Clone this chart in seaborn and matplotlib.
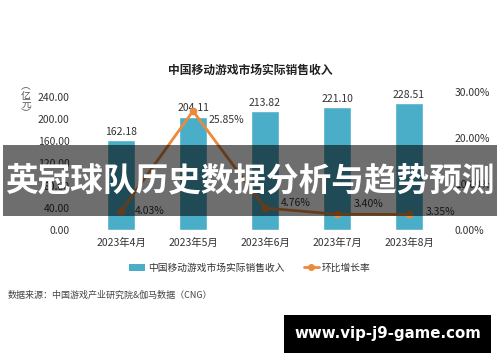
import numpy as np
import matplotlib
matplotlib.use("Agg")
import matplotlib.pyplot as plt
import seaborn as sns
from matplotlib.patches import Patch, Rectangle
from matplotlib.lines import Line2D

# ====================== 数据 ======================
months = ["2023年4月", "2023年5月", "2023年6月", "2023年7月", "2023年8月"]
revenue = [162.18, 204.11, 213.82, 221.10, 228.51]   # 亿元
growth = [4.03, 25.85, 4.76, 3.40, 3.35]             # %
left_ticks = [0, 40, 80, 120, 160, 200, 240]
right_ticks = [0, 10, 20, 30]
# 百分比标签偏移 (像素, 右/上)
label_offsets = [(14, 0), (16, -9), (16, 5), (17, 10), (17, 2)]

BAR_COLOR = "#4aaec8"
LINE_COLOR = "#ec8a3c"
TEXT_COLOR = "#333333"

sns.set_style("white")
plt.rcParams["font.family"] = ["Noto Sans CJK SC", "DejaVu Sans"]

fig = plt.figure(figsize=(5, 3.62), dpi=100)
ax = fig.add_axes([0.17, 0.365, 0.72, 0.381])

sns.barplot(x=months, y=revenue, color=BAR_COLOR, width=0.39, saturation=1, ax=ax)
ax.set_ylim(0, 249)
ax.set_yticks(left_ticks)
ax.set_yticklabels([f"{v:.2f}" for v in left_ticks], fontsize=7.5, color=TEXT_COLOR)
ax.tick_params(axis="x", labelsize=7.5, colors=TEXT_COLOR, pad=6, length=0)
ax.tick_params(axis="y", pad=11, length=0)
ax.set_xlabel("")
ax.set_ylabel("")
for i, v in enumerate(revenue):
    ax.text(i, v + 6, f"{v:.2f}", ha="center", va="bottom", fontsize=7.5, color=TEXT_COLOR)
sns.despine(ax=ax, left=True, bottom=True)

ax2 = ax.twinx()
sns.pointplot(x=months, y=growth, color=LINE_COLOR, markers="o", markersize=4,
              linewidth=2, ax=ax2)
ax2.set_ylim(0, 30)
ax2.set_yticks(right_ticks)
ax2.set_yticklabels([f"{v:.2f}%" for v in right_ticks], fontsize=7.5, color=TEXT_COLOR)
ax2.tick_params(axis="y", pad=7, length=0)
ax2.set_ylabel("")
ax2.set_xlim(-0.5, len(months) - 0.5)
sns.despine(ax=ax2, left=True, bottom=True, right=True)
for i, v in enumerate(growth):
    dx, dy = label_offsets[i]
    ax2.annotate(f"{v:.2f}%", (i, v), xytext=(dx * 0.72, dy * 0.72), textcoords="offset points",
                 ha="left", va="center", fontsize=7.5, color=TEXT_COLOR)

fig.text(0.052, 0.724, "︵\n亿\n元\n︶", ha="center", va="center", fontsize=7,
         color="#555555", linespacing=0.85)

fig.text(0.5, 0.806, "中国移动游戏市场实际销售收入", ha="center", va="center",
         fontsize=8.5, fontweight="bold", color="#222222")

handles = [Patch(facecolor=BAR_COLOR, edgecolor="none"),
           Line2D([0], [0], color=LINE_COLOR, lw=2, marker="o", markersize=4)]
fig.legend(handles, ["中国移动游戏市场实际销售收入", "环比增长率"], loc="center",
           bbox_to_anchor=(0.5, 0.26), ncol=2, frameon=False, fontsize=7,
           handlelength=1.6, handletextpad=0.3, columnspacing=2.0,
           labelcolor=TEXT_COLOR)

fig.text(0.016, 0.185, "数据来源：中国游戏产业研究院&伽马数据（CNG）", ha="left", va="center",
         fontsize=6.5, color="#444444")

# 覆盖横幅
fig.patches.append(Rectangle((0.006, 0.404), 0.988, 0.196, transform=fig.transFigure,
                             facecolor="black", alpha=0.57, edgecolor="none", zorder=10))
fig.text(0.5, 0.497, "英冠球队历史数据分析与趋势预测", ha="center", va="center",
         fontsize=23.5, fontweight="bold", color="white", zorder=11)

fig.patches.append(Rectangle((0.568, 0.026), 0.414, 0.104, transform=fig.transFigure,
                             facecolor="black", edgecolor="none", zorder=10))
fig.text(0.775, 0.078, "www.vip-j9-game.com", ha="center", va="center",
         fontsize=10.8, fontweight="bold", color="white", family="DejaVu Sans", zorder=11)

fig.savefig("out.png", dpi=100)
